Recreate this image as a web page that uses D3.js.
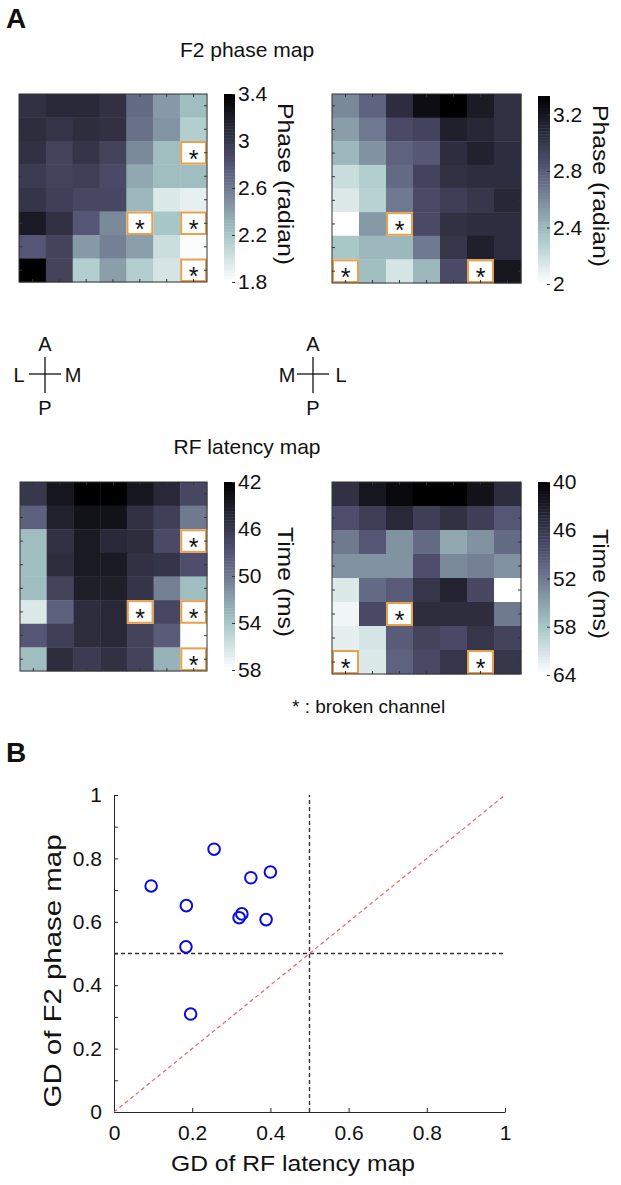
<!DOCTYPE html>
<html>
<head>
<meta charset="utf-8">
<script src="https://cdn.jsdelivr.net/npm/d3@7/dist/d3.min.js"></script>
<style>
  body { margin: 0; background: #fff; }
  svg text { font-family: "Liberation Sans", Arial, sans-serif; fill: #111; }
</style>
</head>
<body>
<svg id="fig" width="621" height="1185"></svg>
<script>
// 8 rows x 7 channels, null = broken channel
const phaseLeft = [
  [3.05, 3.11, 3.11, 3.05, 2.68, 2.44, 2.25],
  [3.08, 3.02, 3.08, 3.05, 2.65, 2.47, 2.15],
  [3.05, 2.92, 3.02, 2.92, 2.52, 2.25, null],
  [2.98, 2.92, 2.95, 2.87, 2.36, 2.25, 2.25],
  [3.02, 2.95, 2.89, 2.89, 2.28, 1.96, 1.91],
  [3.21, 3.05, 2.79, 2.52, null, 2.20, null],
  [2.79, 2.92, 2.44, 2.57, 2.41, 2.04, 1.82],
  [3.40, 2.92, 2.15, 2.41, 2.15, 1.99, null]
];
const phaseRight = [
  [2.60, 2.77, 3.06, 3.25, 3.33, 3.17, 3.04],
  [2.51, 2.67, 2.89, 2.93, 3.14, 3.10, 3.04],
  [2.40, 2.56, 2.77, 2.82, 3.06, 3.13, 3.06],
  [2.20, 2.29, 2.73, 2.93, 3.04, 3.06, 3.06],
  [2.13, 2.27, 2.67, 2.89, 2.96, 3.00, 3.10],
  [2.00, 2.53, null, 2.89, 3.04, 3.06, 3.06],
  [2.33, 2.40, 2.40, 2.67, 3.01, 3.14, 3.06],
  [null, 2.37, 2.16, 2.40, 2.89, null, 3.20]
];
const latencyLeft = [
  [46.0, 43.6, 42.0, 42.0, 43.6, 44.9, 47.1],
  [48.7, 44.4, 43.3, 43.3, 45.5, 46.5, 50.0],
  [53.5, 45.5, 43.9, 44.9, 45.2, 47.3, null],
  [53.5, 45.2, 43.9, 43.9, 45.5, 45.8, 47.6],
  [53.5, 46.8, 44.2, 44.2, 45.8, 50.3, 53.5],
  [56.4, 48.7, 45.2, 44.9, null, 47.1, null],
  [48.1, 46.5, 45.2, 44.9, 46.8, 48.4, 58.0],
  [53.5, 45.2, 46.2, 45.5, 46.8, 52.9, null]
];
const latencyRight = [
  [45.3, 42.4, 41.0, 40.0, 40.0, 41.9, 44.8],
  [48.4, 46.7, 44.3, 46.7, 45.3, 46.7, 49.1],
  [52.0, 49.1, 53.9, 50.8, 55.6, 53.9, 50.8],
  [53.9, 53.9, 53.9, 48.4, 53.2, 52.5, 53.9],
  [61.6, 50.8, 49.6, 45.8, 43.8, 47.7, 64.0],
  [63.0, 47.9, null, 44.8, 44.8, 44.8, 52.0],
  [62.3, 61.1, 49.6, 47.2, 47.9, 45.8, 47.2],
  [null, 61.6, 50.1, 47.9, 45.8, null, 45.8]
];

const phaseLeftTicks = [1.8, 2.2, 2.6, 3, 3.4];
const phaseRightTicks = [2, 2.4, 2.8, 3.2];
const latencyLeftTicks = [42, 46, 50, 54, 58];
const latencyRightTicks = [40, 46, 52, 58, 64];

// panel B: GD per animal
const gdLatency = [0.256, 0.095, 0.185, 0.184, 0.196, 0.350, 0.400, 0.320, 0.327, 0.389];
const gdPhase   = [0.829, 0.713, 0.651, 0.521, 0.309, 0.739, 0.757, 0.613, 0.625, 0.607];
const xTicks = [0, 0.2, 0.4, 0.6, 0.8, 1];
const yTicks = [0, 0.1, 0.2, 0.3, 0.4, 0.5, 0.6, 0.7, 0.8, 0.9, 1];
const yTickLabels = ["0", "", "0.2", "", "0.4", "", "0.6", "", "0.8", "", "1"];

const svg = d3.select("#fig");
const FONT = "'Liberation Sans', Arial, sans-serif";

// matlab "bone" colormap
function bone(t) {
  const c = v => Math.max(0, Math.min(1, v));
  const r = (7 * t + c((t - 0.75) / 0.25)) / 8;
  const g = (7 * t + c((t - 0.375) / 0.375)) / 8;
  const b = (7 * t + c(t / 0.375)) / 8;
  return d3.rgb(r * 255, g * 255, b * 255).formatHex();
}

function dibujarMapa(m) {
  const g = svg.append("g");
  const nRows = m.data.length, nCols = m.data[0].length;
  const x = d3.scaleBand().domain(d3.range(nCols)).range([m.x, m.x + m.w]);
  const y = d3.scaleBand().domain(d3.range(nRows)).range([m.y, m.y + m.h]);
  // top of colorbar is always black
  const t = d3.scaleLinear().domain(m.darkHigh ? [m.domain[1], m.domain[0]] : m.domain).range([0, 1]).clamp(true);
  const cells = m.data.flatMap((row, r) => row.map((v, c) => ({ r, c, v })));

  g.selectAll("rect.cell").data(cells).join("rect")
    .attr("x", d => x(d.c)).attr("y", d => y(d.r))
    .attr("width", x.bandwidth() + 0.4).attr("height", y.bandwidth() + 0.4)
    .attr("fill", d => d.v == null ? "#fff" : bone(t(d.v)));

  const broken = cells.filter(d => d.v == null);
  g.selectAll("rect.broken").data(broken).join("rect")
    .attr("x", d => x(d.c) + 1).attr("y", d => y(d.r) + 1)
    .attr("width", x.bandwidth() - 2).attr("height", y.bandwidth() - 2)
    .attr("fill", "#fff").attr("stroke", "#e9a04c").attr("stroke-width", 2);
  g.selectAll("text.star").data(broken).join("text")
    .attr("x", d => x(d.c) + x.bandwidth() / 2)
    .attr("y", d => y(d.r) + y.bandwidth() / 2 + 15)
    .attr("text-anchor", "middle").attr("font-size", 25).text("*");

  // little inward ticks at channel centres
  const tk = [];
  d3.range(nCols).forEach(c => {
    const cx = x(c) + x.bandwidth() / 2;
    tk.push([cx, m.y + m.h, cx, m.y + m.h - 3], [cx, m.y, cx, m.y + 3]);
  });
  d3.range(nRows).forEach(r => {
    const cy = y(r) + y.bandwidth() / 2;
    tk.push([m.x, cy, m.x + 3, cy], [m.x + m.w, cy, m.x + m.w - 3, cy]);
  });
  g.selectAll("line.tk").data(tk).join("line")
    .attr("x1", d => d[0]).attr("y1", d => d[1]).attr("x2", d => d[2]).attr("y2", d => d[3])
    .attr("stroke", "#333").attr("stroke-width", 1);

  g.append("rect").attr("x", m.x).attr("y", m.y).attr("width", m.w).attr("height", m.h)
    .attr("fill", "none").attr("stroke", "#333").attr("stroke-width", 1);

  // colorbar
  const n = 64, cbH = m.cbY1 - m.cbY0;
  g.selectAll("rect.cb").data(d3.range(n)).join("rect")
    .attr("x", m.cbX).attr("y", i => m.cbY0 + i * cbH / n)
    .attr("width", m.cbW).attr("height", cbH / n + 0.5)
    .attr("fill", i => bone((i + 0.5) / n));

  const cy = d3.scaleLinear().domain(m.darkHigh ? m.domain : [m.domain[1], m.domain[0]]).range([m.cbY1, m.cbY0]);
  const ax = g.append("g").attr("transform", `translate(${m.cbX + m.cbW},0)`)
    .call(d3.axisRight(cy).tickValues(m.ticks).tickSize(-3).tickPadding(3).tickFormat(d => d));
  ax.select(".domain").remove();
  ax.attr("font-size", 21).attr("font-family", FONT).attr("color", "#333");
  ax.selectAll("text").style("fill", "#111");

  g.append("text")
    .attr("transform", `translate(${m.labelX},${m.labelY}) rotate(90)`)
    .attr("text-anchor", "middle").attr("font-size", 22)
    .attr("textLength", m.labelLen).attr("lengthAdjust", "spacingAndGlyphs")
    .text(m.label);
}

const mapas = [
  { data: phaseLeft, x: 19, y: 94, w: 188, h: 188, cbX: 224, cbW: 11, cbY0: 94, cbY1: 282,
    domain: [1.8, 3.4], darkHigh: true, ticks: phaseLeftTicks,
    label: "Phase (radian)", labelX: 278, labelY: 184, labelLen: 162 },
  { data: phaseRight, x: 332, y: 94, w: 189, h: 189, cbX: 538, cbW: 12, cbY0: 96, cbY1: 284,
    domain: [2, 3.33], darkHigh: true, ticks: phaseRightTicks,
    label: "Phase (radian)", labelX: 593, labelY: 186, labelLen: 162 },
  { data: latencyLeft, x: 20, y: 482, w: 187, h: 189, cbX: 224, cbW: 11, cbY0: 482, cbY1: 670,
    domain: [42, 58], darkHigh: false, ticks: latencyLeftTicks,
    label: "Time (ms)", labelX: 278, labelY: 582, labelLen: 110 },
  { data: latencyRight, x: 332, y: 482, w: 189, h: 192, cbX: 538, cbW: 12, cbY0: 482, cbY1: 675,
    domain: [40, 64], darkHigh: false, ticks: latencyRightTicks,
    label: "Time (ms)", labelX: 593, labelY: 584, labelLen: 110 }
];
mapas.forEach(dibujarMapa);

// titles and panel letters
svg.append("text").attr("x", 6).attr("y", 28).attr("font-size", 28).attr("font-weight", "bold").text("A");
svg.append("text").attr("x", 6).attr("y", 762).attr("font-size", 28).attr("font-weight", "bold").text("B");
svg.append("text").attr("x", 247).attr("y", 57).attr("text-anchor", "middle").attr("font-size", 21).text("F2 phase map");
svg.append("text").attr("x", 247).attr("y", 454).attr("text-anchor", "middle").attr("font-size", 21).text("RF latency map");
svg.append("text").attr("x", 292).attr("y", 713).attr("font-size", 19).text("* : broken channel");

// orientation crosses
function cruz(cx, cy, left, right) {
  const g = svg.append("g");
  g.append("line").attr("x1", cx - 16).attr("x2", cx + 16).attr("y1", cy).attr("y2", cy).attr("stroke", "#111").attr("stroke-width", 1.3);
  g.append("line").attr("x1", cx).attr("x2", cx).attr("y1", cy - 17).attr("y2", cy + 19).attr("stroke", "#111").attr("stroke-width", 1.3);
  const lab = [["A", cx, cy - 23], ["P", cx, cy + 41], [left, cx - 26, cy + 8], [right, cx + 28, cy + 8]];
  g.selectAll("text").data(lab).join("text")
    .attr("x", d => d[1]).attr("y", d => d[2]).attr("text-anchor", "middle").attr("font-size", 20).text(d => d[0]);
}
cruz(45, 374, "L", "M");
cruz(313, 374, "M", "L");

// panel B scatter
const x = d3.scaleLinear().domain([0, 1]).range([114, 505]);
const y = d3.scaleLinear().domain([0, 1]).range([1112, 795]);

const gx = svg.append("g").attr("transform", "translate(0,1112)")
  .call(d3.axisBottom(x).tickValues(xTicks).tickSize(-4).tickSizeOuter(0).tickPadding(13).tickFormat(d => d));
const gy = svg.append("g").attr("transform", "translate(114,0)")
  .call(d3.axisLeft(y).tickValues(yTicks).tickSize(-4).tickSizeOuter(0).tickPadding(12).tickFormat((d, i) => yTickLabels[i]));
[gx, gy].forEach(a => {
  a.attr("font-size", 21).attr("font-family", FONT).attr("color", "#262626");
  a.selectAll("text").style("fill", "#111");
});

svg.append("line").attr("x1", x(0.5)).attr("x2", x(0.5)).attr("y1", y(0)).attr("y2", y(1))
  .attr("stroke", "#333").attr("stroke-width", 1.4).attr("stroke-dasharray", "4,3");
svg.append("line").attr("x1", x(0)).attr("x2", x(1)).attr("y1", y(0.5)).attr("y2", y(0.5))
  .attr("stroke", "#333").attr("stroke-width", 1.4).attr("stroke-dasharray", "4,3");
svg.append("line").attr("x1", x(0)).attr("x2", x(1)).attr("y1", y(0)).attr("y2", y(1))
  .attr("stroke", "#f0606a").attr("stroke-width", 1.2).attr("stroke-dasharray", "4,3");

svg.selectAll("circle.pt").data(gdLatency.map((v, i) => [v, gdPhase[i]])).join("circle")
  .attr("cx", d => x(d[0])).attr("cy", d => y(d[1])).attr("r", 5.8)
  .attr("fill", "none").attr("stroke", "#0a0ae0").attr("stroke-width", 2);

svg.append("text").attr("x", 293).attr("y", 1171).attr("text-anchor", "middle").attr("font-size", 22)
  .attr("textLength", 244).attr("lengthAdjust", "spacingAndGlyphs").text("GD of RF latency map");
svg.append("text").attr("transform", "translate(61,971) rotate(-90)").attr("text-anchor", "middle").attr("font-size", 24)
  .attr("textLength", 273).attr("lengthAdjust", "spacingAndGlyphs").text("GD of F2 phase map");
</script>
</body>
</html>
